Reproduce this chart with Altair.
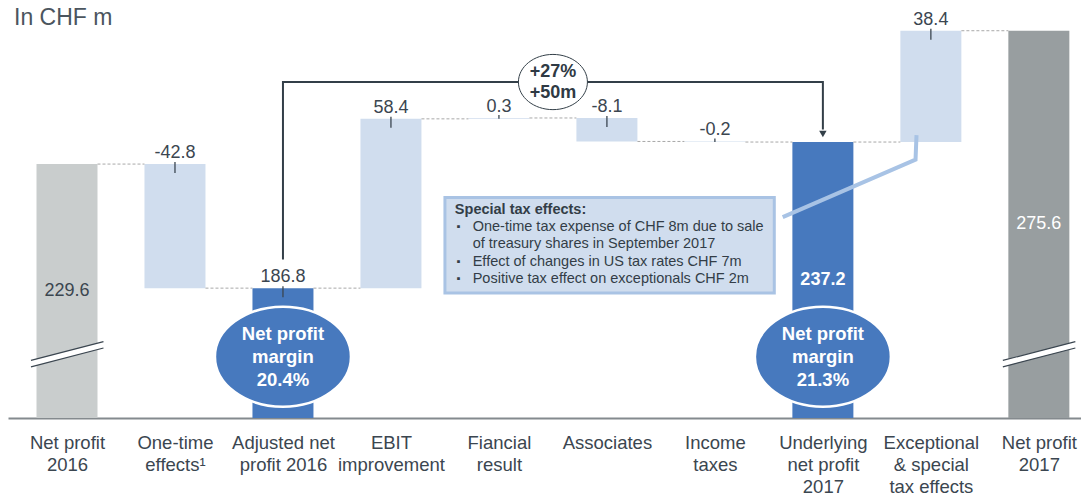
import json
import altair as alt
import pandas as pd

# ---------------- data ----------------
categories = ["Net profit 2016", "One-time effects¹", "Adjusted net profit 2016", "EBIT improvement",
              "Fiancial result", "Associates", "Income taxes", "Underlying net profit 2017",
              "Exceptional & special tax effects", "Net profit 2017"]
label_lines = [["Net profit", "2016"], ["One-time", "effects¹"], ["Adjusted net", "profit 2016"],
               ["EBIT", "improvement"], ["Fiancial", "result"], ["Associates"], ["Income", "taxes"],
               ["Underlying", "net profit", "2017"], ["Exceptional", "& special", "tax effects"],
               ["Net profit", "2017"]]
kinds = ["start", "delta", "sub", "delta", "delta", "delta", "delta", "sub", "delta", "end"]
values = [229.6, -42.8, 186.8, 58.4, 0.3, -8.1, -0.2, 237.2, 38.4, 275.6]
margin_labels = ["Net profit\nmargin\n20.4%", "Net profit\nmargin\n21.3%"]
margin_bars = [2, 7]
growth_label = "+27%\n+50m"
title_text = "In CHF m"
box_title = "Special tax effects:"
box_lines = ["One-time tax expense of CHF 8m due to sale", "of treasury shares in September 2017",
             "Effect of changes in US tax rates CHF 7m", "Positive tax effect on exceptionals CHF 2m"]
box_bullet_rows = [0, 2, 3]

# axis break (value axis starts above zero)
AXIS_FLOOR = 142.0
AXIS_TOP = 279.3
BREAK_LEVEL = 164.0
PLOT_H = 398
UNIT_PER_PX = (AXIS_TOP - AXIS_FLOOR) / PLOT_H

FONT = "Liberation Sans"
DARK = "#3b4650"
LIGHT = "#d0ddee"
BLUE = "#4779be"
colors = {"start": "#c9cdcd", "delta": LIGHT, "sub": BLUE, "end": "#989ea0"}

rows = []
running = 0.0
for i, (c, k, v) in enumerate(zip(categories, kinds, values)):
    if k == "delta":
        start, end = running, running + v
    else:
        start, end = 0.0, v
    running = end
    rows.append(dict(idx=i, cat=c, kind=k, value=v, start=start, end=end,
                     top=max(start, end), bottom=min(start, end),
                     color=colors[k], label=f"{v:.1f}"))
bars = pd.DataFrame(rows)

conn = pd.DataFrame([dict(idx=i, idx2=i + 1, level=rows[i]["end"]) for i in range(len(rows) - 1)])
above = bars[(bars.kind == "delta") | (bars.idx == 2)].copy()
ticks_big = above[(above.kind == "sub") | (above.value.abs() >= 1)].copy()
ticks_small = above[(above.kind == "delta") & (above.value.abs() < 1)].copy()

inside = bars[bars.idx.isin([0, 9])].copy()
inside["mid"] = (inside.value + AXIS_FLOOR) / 2
inside["tcolor"] = [DARK, "white"]
inside_bold = bars[bars.idx == 7].copy()
inside_bold["mid"] = (inside_bold.value + AXIS_FLOOR) / 2

breaks = pd.DataFrame(dict(idx=[0, 9], level=[BREAK_LEVEL, BREAK_LEVEL]))

# ---------------- scales / axes ----------------
X_MIN, X_MAX = -0.5, 9.344
xs = alt.Scale(domain=[X_MIN, X_MAX], nice=False, zero=False)
ys = alt.Scale(domain=[AXIS_FLOOR, AXIS_TOP], nice=False, zero=False, clamp=True)
xaxis = alt.Axis(values=list(range(10)), labelExpr=json.dumps(label_lines, ensure_ascii=False) + "[datum.value]",
                 title=None, ticks=False, grid=False, domain=True, domainColor="#848a8e", domainWidth=2,
                 labelFont=FONT, labelFontSize=18.5, labelColor=DARK, labelLineHeight=22.2,
                 labelPadding=30.5, labelOverlap=False, labelBound=False, labelFlush=False,
                 labelAngle=0, labelBaseline="alphabetic", labelAlign="center")


def X(field):
    return alt.X(field, type="quantitative", scale=xs, axis=xaxis)


def X2(field):
    return alt.X2(field)


def Y(field):
    return alt.Y(field, type="quantitative", scale=ys, axis=None)


layers = []
# bars
layers.append(alt.Chart(bars).mark_bar(size=61).encode(
    x=X("idx"), y=Y("top"), y2=alt.Y2("bottom"), color=alt.Color("color:N", scale=None)))
# dashed connectors
layers.append(alt.Chart(conn).mark_rule(color="#a8a8a8", strokeWidth=1, strokeDash=[3, 2],
                                        xOffset=30.5, x2Offset=-30.5).encode(
    x=X("idx"), x2=X2("idx2"), y=Y("level")))
# axis break marks
layers.append(alt.Chart(breaks).mark_rule(color="white", strokeWidth=6, xOffset=-36, x2Offset=36.5,
                                          yOffset=9.4, y2Offset=-9.4).encode(
    x=X("idx"), x2=X2("idx"), y=Y("level"), y2=alt.Y2("level")))
for off in (-3.2, 3.2):
    layers.append(alt.Chart(breaks).mark_rule(color=DARK, strokeWidth=1.2, xOffset=-36, x2Offset=36.5,
                                              yOffset=9.4 + off, y2Offset=-9.4 + off).encode(
        x=X("idx"), x2=X2("idx"), y=Y("level"), y2=alt.Y2("level")))
# value ticks
layers.append(alt.Chart(ticks_big).mark_rule(color=DARK, strokeWidth=1.3, yOffset=-2, y2Offset=9).encode(
    x=X("idx"), y=Y("top"), y2=alt.Y2("top")))
layers.append(alt.Chart(ticks_small).mark_rule(color=DARK, strokeWidth=1.3, yOffset=-3).encode(
    x=X("idx"), y=Y("top"), y2=alt.Y2("bottom")))
# value labels
layers.append(alt.Chart(above).mark_text(baseline="alphabetic", dy=-6, font=FONT, fontSize=18, color=DARK).encode(
    x=X("idx"), y=Y("top"), text="label:N"))
layers.append(alt.Chart(inside).mark_text(baseline="middle", font=FONT, fontSize=18).encode(
    x=X("idx"), y=Y("mid"), text="label:N", color=alt.Color("tcolor:N", scale=None)))
layers.append(alt.Chart(inside_bold).mark_text(baseline="middle", font=FONT, fontSize=18, fontWeight="bold",
                                               color="white").encode(
    x=X("idx"), y=Y("mid"), text="label:N"))

# title (anchored at the top-left corner of the plot)
tdf = pd.DataFrame(dict(x=[X_MIN], y=[AXIS_TOP], t=[title_text]))
layers.append(alt.Chart(tdf).mark_text(align="left", baseline="alphabetic", dx=1, dy=5, font=FONT, fontSize=23,
                                       color="#4b555e").encode(x=X("x"), y=Y("y"), text="t:N"))

# bracket "+27% / +50m"
bracket = pd.DataFrame(dict(o=[0, 1, 2, 3], x=[2, 2, 7, 7], y=[196.7, 257.9, 257.9, 241.5]))
layers.append(alt.Chart(bracket).mark_line(color="#333f48", strokeWidth=2, strokeJoin="miter").encode(
    x=X("x"), y=Y("y"), order="o:Q"))
arrow = pd.DataFrame(dict(x=[7], y=[240.0]))
layers.append(alt.Chart(arrow).mark_point(shape="triangle-down", filled=True, size=55, color="#333f48",
                                          opacity=1).encode(x=X("x"), y=Y("y")))
growth = pd.DataFrame(dict(x=[4.5], y=[257.9], t=[growth_label]))
layers.append(alt.Chart(growth).mark_point(shape="M -1 0 A 1 0.8 0 1 1 1 0 A 1 0.8 0 1 1 -1 0 Z",
                                           size=69 * 69, filled=True, fill="white", stroke="#333f48",
                                           strokeWidth=1, opacity=1).encode(x=X("x"), y=Y("y")))
layers.append(alt.Chart(growth).mark_text(lineBreak="\n", lineHeight=21, baseline="middle", dy=-10.5,
                                          font=FONT, fontSize=18, fontWeight="bold", color="#2f3a44").encode(
    x=X("x"), y=Y("y"), text="t:N"))

# margin ellipses
margins = pd.DataFrame(dict(x=margin_bars, y=[163.15, 163.15], t=margin_labels))
layers.append(alt.Chart(margins).mark_point(shape="M -1 0 A 1 0.735 0 1 1 1 0 A 1 0.735 0 1 1 -1 0 Z",
                                            size=136 * 136, filled=True, fill=BLUE, stroke="white",
                                            strokeWidth=2.5, opacity=1).encode(x=X("x"), y=Y("y")))
layers.append(alt.Chart(margins).mark_text(lineBreak="\n", lineHeight=23, baseline="middle", dy=-23, font=FONT,
                                           fontSize=18.5, fontWeight="bold", color="white").encode(
    x=X("x"), y=Y("y"), text="t:N"))

# special tax effects box
box = pd.DataFrame(dict(x=[3.5], x2=[6.55], y=[218.05], y2=[185.1]))
layers.append(alt.Chart(box).mark_rect(fill=LIGHT, stroke="#a9c3e4", strokeWidth=3).encode(
    x=X("x"), x2=X2("x2"), y=Y("y"), y2=alt.Y2("y2")))
btitle = pd.DataFrame(dict(x=[3.592], y=[213.6], t=[box_title]))
layers.append(alt.Chart(btitle).mark_text(align="left", baseline="middle", font=FONT, fontSize=14.5,
                                          fontWeight="bold", color="#333d47").encode(
    x=X("x"), y=Y("y"), text="t:N"))
BODY_FIRST = 207.8
BODY_LH = 17.2
bbody = pd.DataFrame(dict(x=[3.757] * len(box_lines),
                          y=[BODY_FIRST - k * BODY_LH * UNIT_PER_PX for k in range(len(box_lines))],
                          t=box_lines))
layers.append(alt.Chart(bbody).mark_text(align="left", baseline="middle", font=FONT, fontSize=14.5,
                                         color="#333d47").encode(x=X("x"), y=Y("y"), text="t:N"))
bbul = pd.DataFrame(dict(x=[3.628] * len(box_bullet_rows),
                         y=[BODY_FIRST - k * BODY_LH * UNIT_PER_PX for k in box_bullet_rows],
                         t=["▪"] * len(box_bullet_rows)))
layers.append(alt.Chart(bbul).mark_text(align="center", baseline="middle", font=FONT, fontSize=11,
                                        color="#333d47").encode(x=X("x"), y=Y("y"), text="t:N"))
leader = pd.DataFrame(dict(o=[0, 1, 2], x=[6.628, 7.858, 7.867], y=[211.3, 231.15, 239.6]))
layers.append(alt.Chart(leader).mark_line(color="#a8c3e5", strokeWidth=4).encode(
    x=X("x"), y=Y("y"), order="o:Q"))

chart = alt.layer(*layers).properties(
    width=1073, height=PLOT_H,
    padding={"left": 0, "top": 12, "right": 0, "bottom": 77},
    autosize=alt.AutoSizeParams(type="none"),
).configure_view(strokeWidth=0)

chart.save("out.html", embed_options={"renderer": "svg", "actions": False})
